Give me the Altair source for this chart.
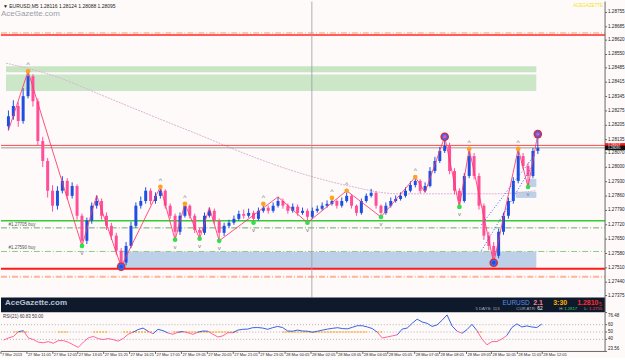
import altair as alt
import pandas as pd

# ---------------- data ----------------
first_open = 1.28200
closes = [1.28249, 1.28299, 1.28226, 1.28347, 1.28444, 1.28322, 1.28128, 1.28031, 1.27886, 1.27813,
          1.27886, 1.27934, 1.27861, 1.27909, 1.27764, 1.27642, 1.27740, 1.27813, 1.27836, 1.27764,
          1.27715, 1.27667, 1.27594, 1.27536, 1.27617, 1.27715, 1.27813, 1.27836, 1.27886, 1.27836,
          1.27861, 1.27886, 1.27813, 1.27764, 1.27686, 1.27764, 1.27813, 1.27764, 1.27695, 1.27681,
          1.27764, 1.27788, 1.27740, 1.27681, 1.27715, 1.27730, 1.27749, 1.27773, 1.27764, 1.27778,
          1.27749, 1.27788, 1.27803, 1.27788, 1.27813, 1.27836, 1.27813, 1.27788, 1.27808, 1.27778,
          1.27788, 1.27759, 1.27788, 1.27798, 1.27813, 1.27822, 1.27836, 1.27813, 1.27836, 1.27861,
          1.27813, 1.27778, 1.27836, 1.27861, 1.27876, 1.27813, 1.27778, 1.27813, 1.27836, 1.27846,
          1.27861, 1.27886, 1.27914, 1.27934, 1.27886, 1.27909, 1.27982, 1.28031, 1.28080, 1.28104,
          1.27982, 1.27886, 1.27836, 1.27958, 1.28055, 1.27958, 1.27813, 1.27667, 1.27617, 1.27569,
          1.27686, 1.27764, 1.27836, 1.27934, 1.28055, 1.28007, 1.27958, 1.28080, 1.28095]
# wick lengths in points (0.00001)
upper_wick_pts = [28, 28, 18, 39, 24, 10, 14, 21, 15, 27, 22, 23, 13, 18, 8, 11, 15, 16, 27, 12,
                  16, 15, 14, 13, 19, 20, 16, 22, 17, 12, 17, 19, 7, 11, 11, 16, 9, 6, 11, 10,
                  16, 16, 11, 10, 15, 15, 16, 16, 21, 21, 11, 16, 19, 11, 16, 20, 12, 11, 16, 11,
                  16, 11, 16, 16, 16, 17, 15, 7, 17, 25, 7, 6, 12, 12, 19, 7, 6, 16, 17, 17,
                  17, 17, 18, 19, 8, 18, 19, 20, 20, 45, 16, 14, 12, 14, 35, 15, 14, 11, 19, 19,
                  15, 16, 17, 18, 35, 15, 14, 15, 67]
lower_wick_pts = [20, 17, 28, 13, 11, 26, 24, 30, 33, 29, 19, 13, 18, 13, 19, 25, 16, 15, 14, 19,
                  20, 21, 22, 20, 13, 11, 10, 14, 13, 18, 13, 13, 14, 14, 39, 15, 9, 14, 15, 29,
                  10, 9, 15, 39, 15, 10, 10, 9, 14, 9, 19, 9, 9, 14, 9, 9, 14, 14, 9, 14,
                  9, 29, 9, 9, 9, 9, 8, 14, 9, 8, 14, 14, 9, 8, 8, 14, 20, 9, 9, 8,
                  8, 8, 8, 12, 13, 8, 7, 11, 10, 10, 16, 18, 29, 8, 11, 16, 19, 21, 21, 34,
                  12, 15, 14, 13, 12, 16, 54, 11, 15]

rsi_vals = [39.0, 41.9, 44.0, 50.4, 51.9, 41.9, 39.7, 36.1, 35.4, 36.9,
            34.7, 38.3, 38.3, 36.1, 32.6, 29.0, 36.1, 41.9, 44.0, 41.1,
            39.7, 41.1, 39.7, 37.6, 41.1, 46.9, 49.7, 53.3, 55.4, 51.1,
            47.6, 53.7, 51.9, 48.7, 46.9, 49.7, 50.7, 49.0, 46.9, 49.7,
            51.4, 51.1, 47.1, 43.3, 44.7, 49.0, 49.0, 52.6, 53.7, 54.0,
            55.9, 56.1, 55.4, 53.7, 55.9, 57.6, 56.1, 51.4, 51.1, 52.6,
            51.4, 51.1, 49.7, 51.1, 52.6, 54.0, 55.0, 55.9, 54.7, 54.3,
            56.4, 58.6, 58.6, 56.9, 54.7, 49.7, 41.9, 43.3, 44.7, 46.1,
            54.0, 55.4, 61.9, 67.6, 63.6, 61.9, 57.6, 59.7, 66.1, 73.3,
            58.3, 51.1, 48.3, 53.3, 60.4, 51.9, 40.4, 32.6, 36.9, 37.1,
            40.4, 45.4, 56.1, 61.1, 56.9, 58.3, 56.9, 56.1, 60.8]

rsi_mid_runs_start = [2, 11, 18, 24, 34, 56, 75, 95]
rsi_mid_runs_end = [5, 13, 21, 30, 47, 73, 76, 96]

# zigzag swing points: bar index and whether it is the bar's high (H) or low (L)
zz_idx = [0, 4, 15, 18, 23, 31, 34, 36, 39, 41, 43, 55, 61, 69, 76, 83, 85, 89, 92, 94, 99, 104, 106, 108]
zz_kind = ["L", "H", "L", "H", "L", "H", "L", "H", "L", "H", "L", "H", "L", "H", "L", "H", "L", "H",
           "L", "H", "L", "H", "L", "H"]

ma_idx = [-0.5, 9.5, 19.5, 29.5, 39.5, 49.5, 59.5, 69.5, 79.5, 89.5, 99.5, 107.5]
ma_price = [1.28508, 1.28444, 1.28347, 1.28249, 1.28153, 1.28055, 1.27972, 1.27909, 1.27871, 1.27871,
            1.27871, 1.27886]

ch_id = ["a", "a", "b", "b"]
ch_idx = [96.5, 107.5, 96.5, 107.1]
ch_price = [1.27720, 1.28065, 1.27594, 1.28017]

high_dot_idx = [4, 31, 36, 52, 66, 69, 83, 94, 104]
low_dot_idx = [15, 34, 39, 43, 50, 61, 76, 92, 106]
big_idx = [23, 89, 99, 108]
big_kind = ["L", "H", "L", "H"]

zone_x0 = [-0.5, -0.5, 23.5, 105.9, 103.5]
zone_x1 = [107.7, 107.7, 107.7, 107.7, 107.7]
zone_p0 = [1.28493, 1.28453, 1.27589, 1.27944, 1.27881]
zone_p1 = [1.28464, 1.28372, 1.27506, 1.27904, 1.27851]
zone_col = ["#c4e4c0", "#c9e6c5", "#b9cde6", "#b9cde6", "#b9cde6"]

solid_lv = [1.28645, 1.28107, 1.28095, 1.27740, 1.27506]
solid_col = ["#ff2a2a", "#ff4444", "#9a9a9a", "#33cc33", "#ff1a1a"]
solid_w = [1.5, 1.0, 1.0, 1.5, 2.0]
dd_lv = [1.28655, 1.27705, 1.27590, 1.27467]
dd_col = ["#ff9966", "#66aa66", "#88cc88", "#ffb499"]
dd_w = [1.0, 1.0, 1.0, 2.0]
lv_labels = ["#1.27705 buy", "#1.27590 buy"]
lv_label_price = [1.27705, 1.27590]

cross_idx = 61.9

price_ticks = [1.28755, 1.28685, 1.28620, 1.28550, 1.28485, 1.28415, 1.28345, 1.28275, 1.28205, 1.28135,
               1.28070, 1.28000, 1.27930, 1.27860, 1.27790, 1.27720, 1.27650, 1.27580, 1.27510, 1.27440,
               1.27375]
box_price = [1.28107, 1.28095]
rsi_ticks = [76.48, 60, 50, 40, 23.56]
rsi_tick_text = ["76.48", "60", "50", "40", "23.56"]

time_labels = ["7 Mar 2013", "27 Mar 11:05", "27 Mar 12:05", "27 Mar 13:05", "27 Mar 15:25", "27 Mar 16:25",
               "27 Mar 17:05", "27 Mar 19:05", "27 Mar 20:05", "27 Mar 21:05", "27 Mar 23:05", "28 Mar 00:05",
               "28 Mar 02:05", "28 Mar 03:05", "28 Mar 04:05", "28 Mar 05:05", "28 Mar 07:05", "28 Mar 08:05",
               "28 Mar 09:05", "28 Mar 10:05", "28 Mar 11:05", "28 Mar 12:05"]
time_tick_idx = [-0.5, 4.7, 9.9, 14.9, 20.1, 25.3, 30.5, 35.7, 40.9, 46.1, 51.3, 56.5, 61.7, 66.9, 72.1,
                 77.1, 82.5, 87.5, 92.9, 97.9, 103.1, 108.1]

# ---------------- frames ----------------
n = len(closes)
opens = [first_open] + closes[:-1]
highs = [round(max(o, c) + u * 1e-5, 5) for o, c, u in zip(opens, closes, upper_wick_pts)]
lows = [round(min(o, c) - d * 1e-5, 5) for o, c, d in zip(opens, closes, lower_wick_pts)]
candles = pd.DataFrame({"i": list(range(n)), "open": opens, "close": closes, "high": highs, "low": lows})
candles["dir"] = ["up" if c >= o else "dn" for o, c in zip(opens, closes)]


def swing_price(k, kind):
    return highs[k] if kind == "H" else lows[k]


FONT = "Liberation Sans"
BG = "#fffafa"
XD = [-0.5, 120.7]
PD = [1.27365, 1.28808]
W = 606
MH = 297
IH = 15
RH = 39

xs = alt.Scale(domain=XD, nice=False, zero=False)
ys = alt.Scale(domain=PD, nice=False, zero=False)
cdir = alt.Scale(domain=["up", "dn"], range=["#1f4fe0", "#ff4f9a"])


def X(f):
    return alt.X(f, type="quantitative", scale=xs, axis=None)


def Y(f):
    return alt.Y(f, type="quantitative", scale=ys, axis=None)


zones = pd.DataFrame({"x0": zone_x0, "x1": zone_x1, "p0": zone_p0, "p1": zone_p1, "c": zone_col})
zone_layer = alt.Chart(zones).mark_rect(opacity=0.95).encode(
    x=X("x0"), x2="x1", y=Y("p0"), y2="p1", color=alt.Color("c:N", scale=None))

solid_df = pd.DataFrame({"p": solid_lv, "c": solid_col, "w": solid_w})
solid_layer = alt.Chart(solid_df).mark_rule().encode(
    y=Y("p"), x=alt.value(0), x2=alt.value(W),
    color=alt.Color("c:N", scale=None), strokeWidth=alt.StrokeWidth("w:Q", scale=None))
dd_df = pd.DataFrame({"p": dd_lv, "c": dd_col, "w": dd_w})
dd_layer = alt.Chart(dd_df).mark_rule(strokeDash=[6, 2, 1, 2]).encode(
    y=Y("p"), x=alt.value(0), x2=alt.value(W),
    color=alt.Color("c:N", scale=None), strokeWidth=alt.StrokeWidth("w:Q", scale=None))
lvlab = pd.DataFrame({"p": lv_label_price, "t": lv_labels, "i": [0, 0]})
lvlab_layer = alt.Chart(lvlab).mark_text(align="left", baseline="bottom", dy=-1, fontSize=4.5,
                                          font=FONT, color="#555555").encode(
    x=X("i"), y=Y("p"), text="t:N")

cross_layer = alt.Chart(pd.DataFrame({"i": [cross_idx]})).mark_rule(color="#9a9a9a", strokeWidth=0.8).encode(
    x=X("i"), y=alt.value(0), y2=alt.value(MH))

ma_df = pd.DataFrame({"i": ma_idx, "p": ma_price})
ma_layer = alt.Chart(ma_df).mark_line(color="#d9b3d6", strokeWidth=1, strokeDash=[2, 1],
                                      interpolate="monotone").encode(x=X("i"), y=Y("p"))

wick_layer = alt.Chart(candles).mark_rule(strokeWidth=1).encode(
    x=X("i"), y=Y("low"), y2="high", color=alt.Color("dir:N", scale=cdir, legend=None))
body_layer = alt.Chart(candles).mark_bar(size=3).encode(
    x=X("i"), y=Y("open"), y2="close", color=alt.Color("dir:N", scale=cdir, legend=None))

zz_df = pd.DataFrame({"i": zz_idx, "p": [swing_price(k, s) for k, s in zip(zz_idx, zz_kind)]})
zz_layer = alt.Chart(zz_df).mark_line(color="#ff3366", strokeWidth=1, opacity=0.85).encode(x=X("i"), y=Y("p"))

ch_df = pd.DataFrame({"g": ch_id, "i": ch_idx, "p": ch_price})
ch_layer = alt.Chart(ch_df).mark_line(color="#3355ff", strokeWidth=1, strokeDash=[1, 2]).encode(
    x=X("i"), y=Y("p"), detail="g:N")

hd = pd.DataFrame({"i": high_dot_idx, "p": [highs[k] for k in high_dot_idx]})
ld = pd.DataFrame({"i": low_dot_idx, "p": [lows[k] for k in low_dot_idx]})
hd_layer = alt.Chart(hd).mark_circle(size=22, color="#ffa21f", opacity=1).encode(x=X("i"), y=Y("p"))
ld_layer = alt.Chart(ld).mark_circle(size=22, color="#2fe04a", opacity=1).encode(x=X("i"), y=Y("p"))
hd_arrow = alt.Chart(hd).mark_text(text="^", fontSize=7, dy=-6, color="#777777", font=FONT).encode(
    x=X("i"), y=Y("p"))
ld_arrow = alt.Chart(ld).mark_text(text="v", fontSize=6, dy=7, color="#777777", font=FONT).encode(
    x=X("i"), y=Y("p"))

big = pd.DataFrame({"i": big_idx, "k": big_kind,
                    "p": [swing_price(k, s) for k, s in zip(big_idx, big_kind)]})
big1 = alt.Chart(big).mark_circle(size=75, color="#e8262b", opacity=1).encode(x=X("i"), y=Y("p"))
big2 = alt.Chart(big).mark_circle(size=38, color="#2f6bff", opacity=1).encode(x=X("i"), y=Y("p"))
big3 = alt.Chart(big).mark_circle(size=12, opacity=1).encode(
    x=X("i"), y=Y("p"),
    color=alt.Color("k:N", scale=alt.Scale(domain=["L", "H"], range=["#36e05a", "#ffa21f"]), legend=None))

one = pd.DataFrame({"a": [0]})


def t(txt, x, y, size, color, weight="normal", align="left"):
    return alt.Chart(one).mark_text(text=txt, align=align, baseline="middle", fontSize=size, font=FONT,
                                    color=color, fontWeight=weight).encode(x=alt.value(x), y=alt.value(y))


hdr1 = t("▼ EURUSD,M5  1.28116 1.28124 1.28088 1.28095", 2, 4, 5, "#222222")
hdr2 = t("AceGazette.com", 0, 12, 8, "#9aa0a8")
hdr3 = t("ACEGAZETTE", W - 2, 4, 4.5, "#f2e21a", align="right")

pt = pd.DataFrame({"p": price_ticks})
pt["t"] = ["%.5f" % v for v in price_ticks]
p_axis_line = alt.Chart(one).mark_rule(color="#666666", strokeWidth=1).encode(
    x=alt.value(W), y=alt.value(0), y2=alt.value(MH))
p_ticks = alt.Chart(pt).mark_rule(color="#666666", strokeWidth=1).encode(
    y=Y("p"), x=alt.value(W), x2=alt.value(W + 2))
p_labels = alt.Chart(pt).mark_text(align="left", baseline="middle", fontSize=4.6, font=FONT,
                                   color="#222222").encode(x=alt.value(W + 3), y=Y("p"), text="t:N")
box_df = pd.DataFrame({"p": box_price, "t": ["%.5f" % v for v in box_price], "c": ["#ff1a1a", "#111111"],
                       "o": [-1.6, 1.0]})
bid_box = alt.Chart(box_df).mark_rect(height=4.6).encode(
    y=Y("p"), yOffset=alt.YOffset("o:Q", scale=None),
    x=alt.value(W), x2=alt.value(W + 20), color=alt.Color("c:N", scale=None))
bid_txt = alt.Chart(box_df).mark_text(align="left", baseline="middle", fontSize=3.4, font=FONT,
                                      color="#ffffff").encode(
    x=alt.value(W + 3), y=Y("p"), yOffset=alt.YOffset("o:Q", scale=None), text="t:N")

main = alt.layer(
    zone_layer, ma_layer, solid_layer, dd_layer, lvlab_layer, cross_layer,
    wick_layer, body_layer, zz_layer, ch_layer,
    hd_arrow, ld_arrow, hd_layer, ld_layer, big1, big2, big3,
    hdr1, hdr2, hdr3, p_axis_line, p_ticks, p_labels, bid_box, bid_txt,
).properties(width=W, height=MH)

# ---------------- info bar ----------------
NAVY = "#0e1a2c"
info = alt.layer(
    alt.Chart(one).mark_rect(color=NAVY).encode(x=alt.value(0), x2=alt.value(W), y=alt.value(0), y2=alt.value(IH)),
    alt.Chart(one).mark_rule(color="#666666").encode(x=alt.value(W), y=alt.value(0), y2=alt.value(IH)),
    t("AceGazette.com", 4, 5, 8, "#b8c2d6", "bold"),
    t("EURUSD", 503, 5, 6.5, "#5b8de0"),
    t("2.1", 534, 5, 7, "#ff7f8a", "bold"),
    t("3:30", 554, 5, 7, "#ffae00", "bold"),
    t("1.2810", 578, 5, 7, "#ff2a2a", "bold"),
    t("5", 600, 6, 5, "#ff2a2a"),
    t("5 DAYS: 113", 476, 11.5, 4.3, "#b0b0b0"),
    t("CUR ATR:", 517, 11.5, 4.3, "#b0b0b0"),
    t("62", 538, 11.5, 4.8, "#ffffff"),
    t("H:", 560, 11.5, 4.3, "#b0b0b0"),
    t("1.2817", 565, 11.5, 4.3, "#2fd050"),
    t("L:", 585, 11.5, 4.3, "#b0b0b0"),
    t("1.2755", 590, 11.5, 4.3, "#ff4040"),
).properties(width=W, height=IH)

# ---------------- RSI ----------------
segs = []
for k in range(n - 1):
    side = "up" if (rsi_vals[k] + rsi_vals[k + 1]) / 2 >= 50 else "dn"
    segs.append({"seg": k, "i": k, "rsi": rsi_vals[k], "side": side})
    segs.append({"seg": k, "i": k + 1, "rsi": rsi_vals[k + 1], "side": side})
segs = pd.DataFrame(segs)
rys = alt.Scale(domain=[23.56, 76.48], nice=False, zero=False)


def RY(f):
    return alt.Y(f, type="quantitative", scale=rys, axis=None)


lvl = alt.Chart(pd.DataFrame({"v": [40, 50, 60]})).mark_rule(color="#a0a0a0", strokeDash=[1, 2],
                                                             strokeWidth=0.8).encode(
    y=RY("v"), x=alt.value(0), x2=alt.value(W))
rsi_line = alt.Chart(segs).mark_line(strokeWidth=0.9).encode(
    x=X("i"), y=RY("rsi"), detail="seg:N",
    color=alt.Color("side:N", scale=alt.Scale(domain=["up", "dn"], range=["#5060ff", "#ff4a4a"]), legend=None))
runs = pd.DataFrame({"s": rsi_mid_runs_start, "e": rsi_mid_runs_end, "v": [50] * len(rsi_mid_runs_start)})
run_layer = alt.Chart(runs).mark_rule(color="#ff9a00", strokeDash=[2, 1], strokeWidth=1.2).encode(
    x=X("s"), x2="e", y=RY("v"))
rsi_title = t("RSI(21) 60.83 50.00", 2, 4, 4.5, "#333333")

rt = pd.DataFrame({"v": rsi_ticks, "t": rsi_tick_text})
r_axis_line = alt.Chart(one).mark_rule(color="#666666").encode(x=alt.value(W), y=alt.value(0), y2=alt.value(RH))
r_ticks = alt.Chart(rt).mark_rule(color="#666666").encode(y=RY("v"), x=alt.value(W), x2=alt.value(W + 2))
r_lab_mid = alt.Chart(rt.iloc[1:4]).mark_text(align="left", baseline="middle", fontSize=4.5, font=FONT,
                                              color="#222222").encode(x=alt.value(W + 3), y=RY("v"), text="t:N")
r_lab_top = alt.Chart(rt.iloc[[0]]).mark_text(align="left", baseline="top", fontSize=4.5, font=FONT,
                                              color="#222222").encode(x=alt.value(W + 3), y=RY("v"), text="t:N")
r_lab_bot = alt.Chart(rt.iloc[[4]]).mark_text(align="left", baseline="bottom", fontSize=4.5, font=FONT,
                                              color="#222222").encode(x=alt.value(W + 3), y=RY("v"), text="t:N")
bottom_line = alt.Chart(one).mark_rule(color="#666666").encode(x=alt.value(0), x2=alt.value(W), y=alt.value(RH))
tt = pd.DataFrame({"i": time_tick_idx, "t": time_labels})
t_ticks = alt.Chart(tt).mark_rule(color="#666666").encode(x=X("i"), y=alt.value(RH), y2=alt.value(RH + 2.5))
t_labels = alt.Chart(tt).mark_text(align="left", baseline="middle", fontSize=4, font=FONT,
                                   color="#222222", dx=1).encode(x=X("i"), y=alt.value(RH + 3.5), text="t:N")

rsi = alt.layer(lvl, run_layer, rsi_line, rsi_title, r_axis_line, r_ticks, r_lab_mid, r_lab_top, r_lab_bot,
                bottom_line, t_ticks, t_labels).properties(width=W, height=RH)

chart = alt.vconcat(main, info, rsi, spacing=0, bounds="flush").properties(
    padding=0, background=BG
).configure_view(stroke=None, fill=BG)

chart.save("out.html", embed_options={"renderer": "svg", "actions": False})
